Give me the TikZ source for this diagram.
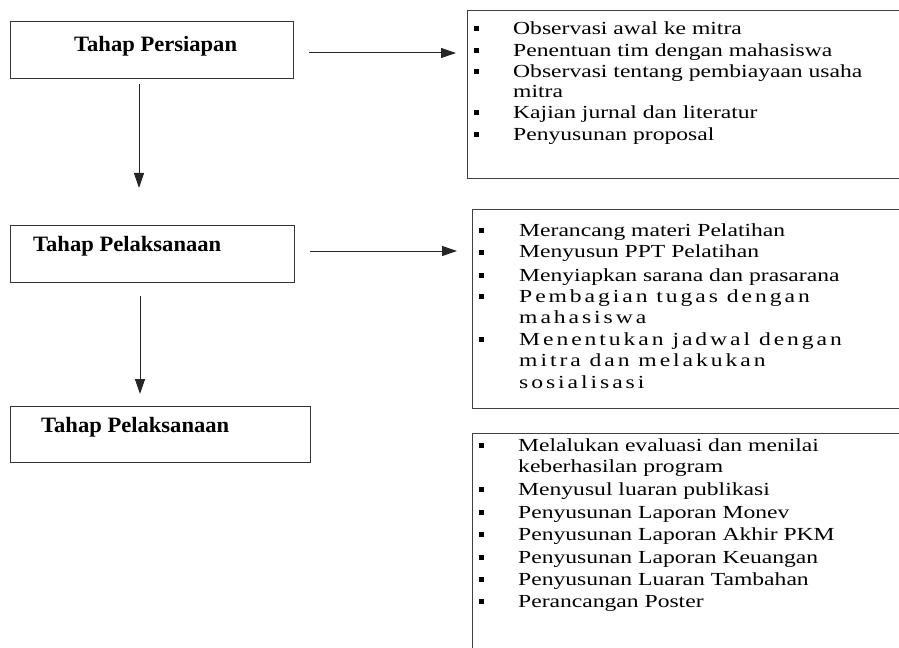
\documentclass[tikz,border=0pt]{standalone}
\usepackage{fontspec}
\setmainfont{Liberation Serif}
\newfontfamily\rfont[FakeStretch=1.28]{Liberation Serif}
\newfontfamily\rsfont[FakeStretch=1.28,LetterSpace=16]{Liberation Serif}
\newfontfamily\lfont[FakeStretch=1.03]{Liberation Serif}
\usetikzlibrary{arrows.meta}
\tikzset{
  stagebox/.style={draw=black!80,line width=1.1bp,inner sep=0pt},
  stagelabel/.style={anchor=base west,inner sep=0pt,font=\lfont\bfseries\fontsize{22}{26}\selectfont},
  listbox/.style={draw=black!75,line width=1.1bp,inner sep=0pt},
  itemtxt/.style={anchor=base west,inner sep=0pt,font=\rfont\fontsize{18.5}{21}\selectfont},
  itemsp/.style={anchor=base west,inner sep=0pt,font=\rsfont\fontsize{18.5}{21}\selectfont},
  flow/.style={draw=black!85,line width=1bp,-{Triangle[length=15bp,width=10bp]}},
  bul/.style={fill=black,minimum size=5bp,inner sep=0pt}
}
\begin{document}
\begin{tikzpicture}[x=1bp,y=-1bp]
\clip (0,0) rectangle (899,648);
\fill[white] (0,0) rectangle (899,648);

% left stage boxes
\node[stagebox,anchor=north west,minimum width=283bp,minimum height=57bp] (b1) at (10,21) {};
\node[stagelabel] (t1) at (74,52) {Tahap Persiapan};
\node[stagebox,anchor=north west,minimum width=284bp,minimum height=57bp] (b2) at (10,225) {};
\node[stagelabel] (t2) at (33,252) {Tahap Pelaksanaan};
\node[stagebox,anchor=north west,minimum width=300bp,minimum height=56bp] (b3) at (10,406) {};
\node[stagelabel] (t3) at (41,432) {Tahap Pelaksanaan};

% right list boxes (open to the right / bottom)
\node[listbox,anchor=north west,minimum width=460bp,minimum height=168bp] (rb1) at (467,10) {};
\node[listbox,anchor=north west,minimum width=460bp,minimum height=199bp] (rb2) at (472,209) {};
\node[listbox,anchor=north west,minimum width=460bp,minimum height=240bp] (rb3) at (472,433) {};

% arrows
\coordinate (a1s) at (309,53);
\coordinate (a1e) at (456,53);
\coordinate (d1s) at (139,84);
\coordinate (d1e) at (139,188);
\coordinate (a2s) at (310,251);
\coordinate (a2e) at (457,251);
\coordinate (d2s) at (140,296);
\coordinate (d2e) at (140,394);
\draw[flow] (a1s) -- (a1e);
\draw[flow] (d1s) -- (d1e);
\draw[flow] (a2s) -- (a2e);
\draw[flow] (d2s) -- (d2e);

% list 1
\node[bul] (p1) at (476,29) {};
\node[itemtxt] (l1) at (513,35) {Observasi awal ke mitra};
\node[bul] (p2) at (476,51) {};
\node[itemtxt] (l2) at (513,57) {Penentuan tim dengan mahasiswa};
\node[bul] (p3) at (476,72) {};
\node[itemtxt] (l3) at (513,78) {Observasi tentang pembiayaan usaha};
\node[itemtxt] (l4) at (513,98) {mitra};
\node[bul] (p5) at (476,113) {};
\node[itemtxt] (l5) at (513,119) {Kajian jurnal dan literatur};
\node[bul] (p6) at (476,135) {};
\node[itemtxt] (l6) at (513,141) {Penyusunan proposal};

% list 2
\node[bul] (q1) at (481,231) {};
\node[itemtxt] (m1) at (519,237) {Merancang materi Pelatihan};
\node[bul] (q2) at (481,252) {};
\node[itemtxt] (m2) at (519,258) {Menyusun PPT Pelatihan};
\node[bul] (q3) at (481,275) {};
\node[itemtxt] (m3) at (519,281) {Menyiapkan sarana dan prasarana};
\node[bul] (q4) at (481,296) {};
\node[itemsp] (m4) at (519,302) {Pembagian tugas dengan};
\node[itemsp] (m5) at (519,323) {mahasiswa};
\node[bul] (q6) at (481,339) {};
\node[itemsp] (m6) at (519,345) {Menentukan jadwal dengan};
\node[itemsp] (m7) at (519,366) {mitra dan melakukan};
\node[itemsp] (m8) at (519,388) {sosialisasi};

% list 3
\node[bul] (s1) at (481,445) {};
\node[itemtxt] (n1) at (518,451) {Melalukan evaluasi dan menilai};
\node[itemtxt] (n2) at (518,472) {keberhasilan program};
\node[bul] (s3) at (481,489) {};
\node[itemtxt] (n3) at (518,495) {Menyusul luaran publikasi};
\node[bul] (s4) at (481,512) {};
\node[itemtxt] (n4) at (518,518) {Penyusunan Laporan Monev};
\node[bul] (s5) at (481,534) {};
\node[itemtxt] (n5) at (518,540) {Penyusunan Laporan Akhir PKM};
\node[bul] (s6) at (481,557) {};
\node[itemtxt] (n6) at (518,563) {Penyusunan Laporan Keuangan};
\node[bul] (s7) at (481,579) {};
\node[itemtxt] (n7) at (518,585) {Penyusunan Luaran Tambahan};
\node[bul] (s8) at (481,601) {};
\node[itemtxt] (n8) at (518,607) {Perancangan Poster};
\end{tikzpicture}
\end{document}
